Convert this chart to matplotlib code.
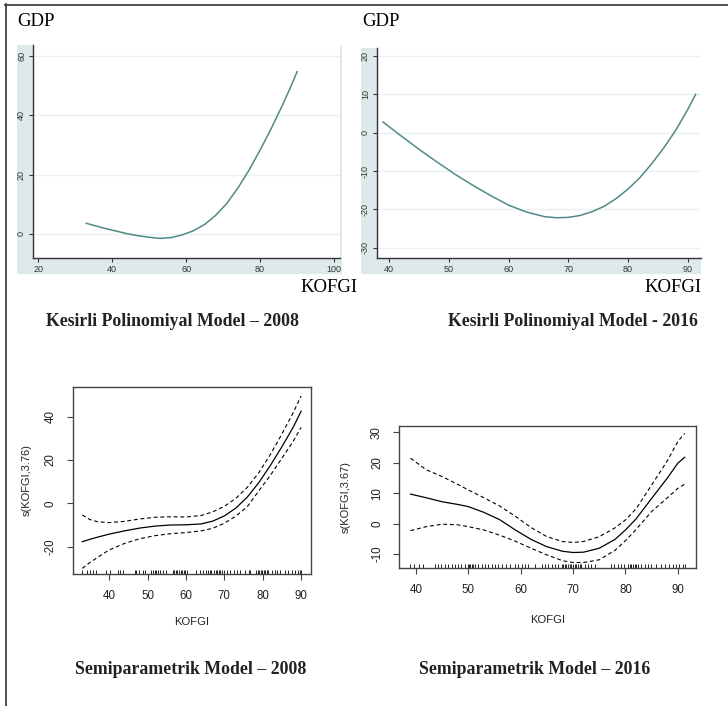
import matplotlib
matplotlib.use("Agg")
import matplotlib.pyplot as plt
from matplotlib.patches import Rectangle
from matplotlib.lines import Line2D

plt.rcParams["axes.unicode_minus"] = False

W, H = 728, 706
DPI = 100

# ---------------- data ----------------
# Kesirli Polinomiyal Model - 2008
fp08_x = [33, 35, 38, 41, 44, 47, 50, 53, 56, 59, 62, 65, 68, 71, 74, 77, 80, 83, 86, 88, 90]
fp08_y = [3.6, 2.9, 1.9, 1.0, 0.1, -0.6, -1.1, -1.5, -1.2, -0.3, 1.1, 3.2, 6.3, 10.3, 15.5,
          21.5, 28.3, 35.5, 43.3, 48.8, 54.7]

# Kesirli Polinomiyal Model - 2016
fp16_x = [39, 42, 45, 48, 51, 54, 57, 60, 63, 66, 68, 70, 72, 74, 76, 78, 80, 82, 84, 86, 88, 90, 91.3]
fp16_y = [2.8, -0.8, -4.3, -7.6, -10.8, -13.7, -16.4, -18.9, -20.7, -21.9, -22.2, -22.1, -21.6,
          -20.6, -19.2, -17.2, -14.7, -11.7, -8.0, -3.9, 0.7, 6.1, 10.0]

# Semiparametrik Model - 2008
sp08_x = [33, 35, 37, 40, 44, 48, 52, 56, 60, 64, 67, 70, 73, 76, 79, 82, 85, 88, 90]
sp08_fit = [-17.7, -16.6, -15.6, -14.2, -12.7, -11.4, -10.5, -10.0, -9.9, -9.5, -8.2, -5.8, -2.2,
            2.9, 9.6, 17.5, 26.1, 35.3, 42.5]
sp08_up = [-5.4, -7.5, -8.5, -8.9, -8.3, -7.2, -6.4, -6.2, -6.3, -5.6, -3.9, -1.4, 2.3, 7.4,
           14.2, 22.5, 32.0, 42.0, 49.5]
sp08_lo = [-30.0, -27.3, -24.9, -21.5, -18.5, -16.3, -14.9, -14.0, -13.5, -12.7, -11.5, -9.2,
           -5.9, -1.5, 5.8, 12.9, 20.8, 28.8, 35.0]
rug08 = [33.0, 34.1, 35.0, 35.7, 36.5, 39.3, 40.2, 42.3, 42.8, 43.5, 46.7, 47.1, 47.8, 48.8,
         49.3, 51.0, 51.5, 51.9, 52.3, 52.8, 53.2, 54.1, 54.9, 56.6, 57.0, 57.4, 57.8, 58.2,
         58.6, 59.0, 59.4, 59.8, 60.2, 62.7, 63.6, 64.4, 65.3, 65.7, 66.2, 66.6, 67.4, 67.8,
         68.2, 68.6, 69.0, 69.5, 69.9, 70.7, 71.6, 72.4, 73.3, 74.1, 75.4, 76.3, 76.7, 78.3,
         78.7, 79.1, 79.5, 79.9, 80.3, 80.7, 81.1, 81.5, 82.4, 83.2, 83.6, 84.5, 85.8, 86.6,
         87.5, 88.3, 89.2, 89.6, 90.0]

# Semiparametrik Model - 2016
sp16_x = [39, 42, 45, 48, 50, 53, 56, 59, 62, 65, 68, 70, 72, 75, 78, 80, 82, 85, 88, 90, 91.3]
sp16_fit = [9.7, 8.5, 7.2, 6.3, 5.6, 3.7, 1.3, -2.1, -5.2, -7.6, -9.1, -9.5, -9.4, -8.1, -5.2,
            -2.1, 1.5, 8.3, 15.0, 19.9, 21.8]
sp16_up = [21.5, 17.7, 15.5, 12.9, 11.1, 8.5, 5.8, 2.4, -1.3, -4.3, -5.9, -6.2, -5.9, -4.3,
           -1.4, 1.2, 4.8, 12.7, 20.7, 27.0, 29.7]
sp16_lo = [-2.3, -1.0, -0.2, -0.4, -1.0, -2.1, -3.8, -5.8, -8.1, -10.3, -12.2, -12.8, -12.8,
           -11.9, -8.8, -5.6, -2.0, 4.0, 8.5, 11.6, 13.0]
rug16 = [38.9, 39.6, 40.6, 41.3, 43.7, 44.3, 44.9, 45.6, 46.2, 46.9, 47.5, 48.1, 48.7, 49.4,
         49.9, 50.2, 50.4, 50.7, 50.9, 51.3, 51.9, 52.6, 53.2, 53.8, 54.5, 55.1, 55.7, 56.4,
         57.3, 58.0, 58.9, 59.5, 60.2, 60.8, 61.4, 62.7, 64.0, 64.6, 65.3, 65.9, 66.5, 67.2,
         67.8, 68.1, 68.4, 68.7, 69.1, 69.4, 69.7, 70.0, 70.3, 70.6, 71.0, 71.3, 71.6, 72.2,
         72.9, 73.5, 74.1, 77.3, 77.9, 78.6, 79.2, 79.8, 80.5, 80.8, 81.1, 81.4, 81.8, 82.1,
         82.4, 83.0, 83.7, 84.3, 84.9, 85.9, 86.8, 87.5, 88.4, 89.0, 89.7, 90.3, 91.0, 91.3]

titles = ["Kesirli Polinomiyal Model \u2013 2008", "Kesirli Polinomiyal Model - 2016",
          "Semiparametrik Model \u2013 2008", "Semiparametrik Model \u2013 2016"]

# ---------------- figure ----------------
fig = plt.figure(figsize=(W / DPI, H / DPI), dpi=DPI)
fig.patch.set_facecolor("white")


def fx(x):
    return x / W


def fy(y):
    return 1 - y / H


def px_axes(l, t, r, b, **kw):
    return fig.add_axes([l / W, 1 - b / H, (r - l) / W, (b - t) / H], **kw)


# outer frame lines (top and left)
fig.add_artist(Line2D([fx(5), fx(728)], [fy(4.5), fy(4.5)], color="#333333", lw=1.2))
fig.add_artist(Line2D([fx(5.5), fx(5.5)], [fy(4), fy(706)], color="#333333", lw=1.2))

STATA_BG = "#dde9ea"
STATA_LINE = "#4f8a89"
GRID = "#e9f1f1"
SANS = ["Liberation Sans", "DejaVu Sans"]
SERIF = ["Liberation Serif", "DejaVu Serif"]


def stata_panel(bg, plot, x, y, xlim, ylim, xticks, yticks):
    l, t, r, b = bg
    fig.add_artist(Rectangle((l / W, 1 - b / H), (r - l) / W, (b - t) / H,
                             transform=fig.transFigure, facecolor=STATA_BG,
                             edgecolor="none", zorder=0))
    ax = px_axes(*plot)
    ax.set_facecolor("white")
    ax.plot(x, y, color=STATA_LINE, lw=1.1)
    ax.set_xlim(*xlim)
    ax.set_ylim(*ylim)
    ax.set_xticks(xticks)
    ax.set_yticks(yticks)
    for yt in yticks:
        ax.axhline(yt, color=GRID, lw=1.0, zorder=0)
    for s in ("top", "right"):
        ax.spines[s].set_visible(False)
    for s in ("left", "bottom"):
        ax.spines[s].set_color("#333333")
        ax.spines[s].set_linewidth(1.0)
    ax.tick_params(axis="both", length=3, width=0.8, color="#333333", labelsize=6.5,
                   labelcolor="#333333", pad=2)
    for lab in ax.get_yticklabels():
        lab.set_rotation(90)
        lab.set_va("center")
        lab.set_family(SANS)
    for lab in ax.get_xticklabels():
        lab.set_family(SANS)
    return ax


stata_panel((17, 45, 342, 274), (33, 45, 340, 258), fp08_x, fp08_y,
            (18.6, 101.6), (-8.1, 63.7), [20, 40, 60, 80, 100], [0, 20, 40, 60])
stata_panel((361, 48, 701, 274), (377, 48, 701, 258), fp16_x, fp16_y,
            (38.0, 92.2), (-32.7, 22.1), [40, 50, 60, 70, 80, 90], [-30, -20, -10, 0, 10, 20])

for gx in (17, 362):
    fig.text(fx(gx), fy(22), "GDP", family=SERIF, fontsize=13.5, ha="left", va="center")
for kx in (358, 702):
    fig.text(fx(kx), fy(287), "KOFGI", family=SERIF, fontsize=13.5, ha="right", va="center")


def r_panel(box, x, fit, up, lo, rug, xlim, ylim, yticks, ylabel, ylab_x, xlab_y):
    ax = px_axes(*box)
    ax.plot(x, fit, color="black", lw=0.9)
    ax.plot(x, up, color="black", lw=0.8, ls=(0, (3.5, 2.5)))
    ax.plot(x, lo, color="black", lw=0.8, ls=(0, (3.5, 2.5)))
    hpx = box[3] - box[1]
    ax.vlines(rug, 0, 4.5 / hpx, transform=ax.get_xaxis_transform(), color="black", lw=0.6)
    ax.set_xlim(*xlim)
    ax.set_ylim(*ylim)
    ax.set_xticks([40, 50, 60, 70, 80, 90])
    ax.set_yticks(yticks)
    for s in ax.spines.values():
        s.set_color("#444444")
        s.set_linewidth(1.0)
    ax.tick_params(axis="both", length=4.5, width=0.8, color="#444444", labelsize=8.3,
                   labelcolor="#222222", pad=7)
    for lab in ax.get_yticklabels():
        lab.set_rotation(90)
        lab.set_va("center")
        lab.set_family(SANS)
    for lab in ax.get_xticklabels():
        lab.set_family(SANS)
    cx = (box[0] + box[2]) / 2
    cy = (box[1] + box[3]) / 2
    fig.text(fx(cx), fy(xlab_y), "KOFGI", family=SANS, fontsize=8.1, ha="center",
             va="center", color="#222222")
    fig.text(fx(ylab_x), fy(cy), ylabel, family=SANS, fontsize=8.0, ha="center",
             va="center", rotation=90, color="#222222")
    return ax


r_panel((72.7, 386.7, 310.7, 574), sp08_x, sp08_fit, sp08_up, sp08_lo, rug08,
        (30.5, 92.5), (-32.6, 53.8), [-20, 0, 20, 40], "s(KOFGI,3.76)", 27, 622)
r_panel((399, 425.7, 695.7, 568.3), sp16_x, sp16_fit, sp16_up, sp16_lo, rug16,
        (36.8, 93.4), (-14.7, 32.2), [-10, 0, 10, 20, 30], "s(KOFGI,3.67)", 346, 620)

# panel titles
for (tx, ty), t in zip([(172, 322), (572.5, 322), (191, 669), (535, 669)], titles):
    fig.text(fx(tx), fy(ty), t, family=SERIF, fontsize=12.8, fontweight="bold",
             ha="center", va="center", color="#222222")

fig.savefig("out.png", dpi=DPI)
